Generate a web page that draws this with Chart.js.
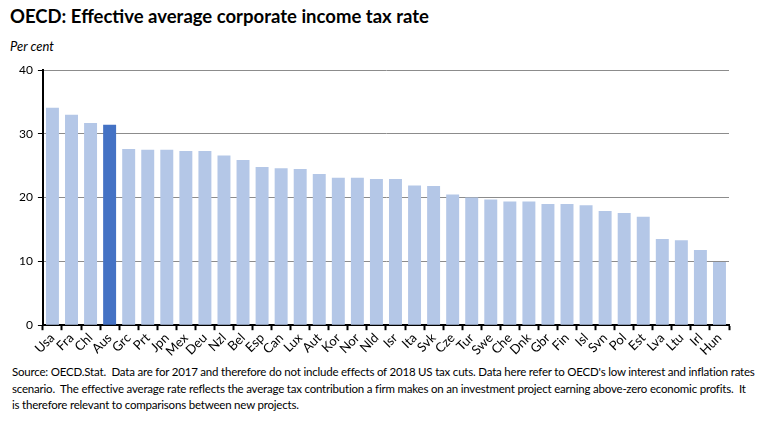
<!DOCTYPE html>
<html>
<head>
<meta charset="utf-8">
<script src="https://cdn.jsdelivr.net/npm/chart.js@4"></script>
<style>
  html, body { margin: 0; padding: 0; background: #fff; }
  body { width: 768px; height: 423px; position: relative; overflow: hidden; font-family: Lato, "Open Sans", sans-serif; }
  #title { position: absolute; left: 10px; top: 5px; font-size: 18.5px; font-weight: bold; color: #000; white-space: nowrap; }
  #units { position: absolute; left: 10px; top: 38px; font-size: 13px; font-style: italic; color: #000; }
  #wrap { position: absolute; left: 0; top: 55px; width: 768px; height: 304px; }
  #note { position: absolute; left: 12px; top: 364px; font-size: 11.5px; line-height: 16.5px; color: #000; white-space: nowrap; letter-spacing: -0.2px; }
</style>
</head>
<body>
<div id="title">OECD: Effective average corporate income tax rate</div>
<div id="units">Per cent</div>
<div id="wrap"><canvas id="bar-chart"></canvas></div>
<div id="note">Source: OECD.Stat.&nbsp; Data are for 2017 and therefore do not include effects of 2018 US tax cuts. Data here refer to OECD's low interest and inflation rates<br>scenario.&nbsp; The effective average rate reflects the average tax contribution a firm makes on an investment project earning above-zero economic profits.&nbsp; It<br>is therefore relevant to comparisons between new projects.</div>
<script>
var canvasElement = document.getElementById("bar-chart");

var labelsData = ["Usa", "Fra", "Chl", "Aus", "Grc", "Prt", "Jpn", "Mex", "Deu", "Nzl", "Bel", "Esp",
    "Can", "Lux", "Aut", "Kor", "Nor", "Nld", "Isr", "Ita", "Svk", "Cze", "Tur", "Swe",
    "Che", "Dnk", "Gbr", "Fin", "Isl", "Svn", "Pol", "Est", "Lva", "Ltu", "Irl", "Hun"]; // countries
var inputData = [34.1, 33.0, 31.7, 31.4, 27.6, 27.5, 27.5, 27.3, 27.3, 26.6, 25.9, 24.8,
    24.6, 24.5, 23.7, 23.1, 23.1, 22.9, 22.9, 21.9, 21.8, 20.5, 20.0, 19.7,
    19.4, 19.4, 19.0, 19.0, 18.8, 17.9, 17.6, 17.0, 13.5, 13.3, 11.8, 9.9]; // EATR, per cent
var highlight = "Aus"; // drawn in the darker blue
var yTicks = [0, 10, 20, 30, 40];

var barColors = labelsData.map(function (c) {
    return c === highlight ? "#4472C4" : "#B4C7E7";
});

var config = {
    type: "bar",
    data: {
        labels: labelsData,
        datasets: [{
            data: inputData,
            backgroundColor: barColors,
            borderWidth: 0,
            categoryPercentage: 1.0,
            barPercentage: 0.68
        }]
    },
    options: {
        responsive: true,
        maintainAspectRatio: false,
        animation: false,
        layout: { padding: { left: 14, right: 39, top: 15, bottom: 0 } },
        plugins: {
            legend: { display: false },
            tooltip: { enabled: false }
        },
        scales: {
            x: {
                grid: {
                    display: true,
                    offset: true,
                    drawOnChartArea: false,
                    drawTicks: true,
                    tickLength: 5,
                    tickColor: "#000",
                    tickWidth: 2
                },
                border: { color: "#000", width: 2 },
                ticks: {
                    color: "#000",
                    font: { family: "Lato", size: 13 },
                    maxRotation: 45,
                    minRotation: 45,
                    autoSkip: false,
                    padding: 0
                }
            },
            y: {
                min: 0,
                max: 40,
                afterBuildTicks: function (axis) {
                    axis.ticks = yTicks.map(function (v) { return { value: v }; });
                },
                grid: {
                    color: "#8c8c8c",
                    lineWidth: 1,
                    drawTicks: true,
                    tickLength: 5,
                    tickColor: "#000"
                },
                border: { color: "#000", width: 2 },
                ticks: {
                    color: "#000",
                    font: { family: "Lato", size: 12 },
                    padding: 5
                }
            }
        }
    }
};

var barChart = new Chart(canvasElement, config);
</script>
</body>
</html>
